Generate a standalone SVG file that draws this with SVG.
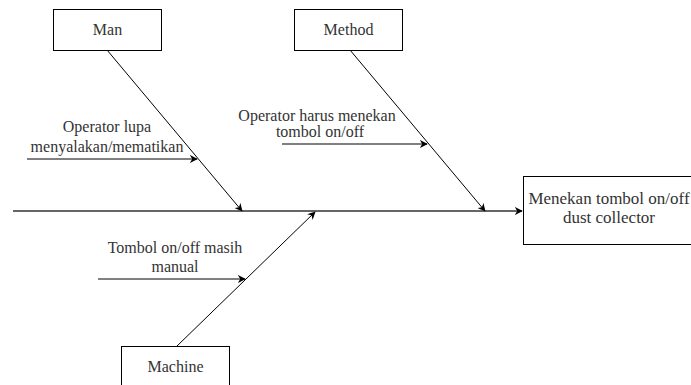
<svg xmlns="http://www.w3.org/2000/svg" width="691" height="385" viewBox="0 0 691 385">
  <style>
    .box { fill: #ffffff; stroke: #000000; stroke-width: 1; }
    .lbl { font-family: 'Liberation Serif', 'Times New Roman', serif; font-size: 16px; fill: #333333; }
    .edge { stroke: #000000; stroke-width: 1; fill: none; marker-end: url(#arrow); }
    .spine { stroke: #333333; stroke-width: 1.5; fill: none; marker-end: url(#arrow); }
  </style>
  <defs>
    <marker id="arrow" viewBox="0 0 10 10" refX="9" refY="5" markerWidth="8" markerHeight="8" markerUnits="userSpaceOnUse" orient="auto">
      <path d="M0,0 L10,5 L0,10 L3,5 Z" fill="#000000"/>
    </marker>
  </defs>
  <rect width="691" height="385" fill="#ffffff"/>

  <g id="connectors">
    <line class="spine" x1="13" y1="211" x2="522" y2="211"/>
    <line class="edge" x1="107" y1="50" x2="242" y2="211"/>
    <line class="edge" x1="350" y1="50" x2="485" y2="211"/>
    <line class="edge" x1="176" y1="347" x2="315" y2="212"/>
    <line class="edge" x1="27" y1="159" x2="197" y2="159"/>
    <line class="edge" x1="282" y1="144" x2="427" y2="144"/>
    <line class="edge" x1="98" y1="279" x2="245" y2="279"/>
  </g>

  <g id="man">
    <rect class="box" x="53.5" y="9.5" width="108" height="41"/>
    <text class="lbl" x="107.5" y="35" text-anchor="middle">Man</text>
  </g>

  <g id="method">
    <rect class="box" x="294.5" y="9.5" width="108" height="41"/>
    <text class="lbl" x="348.5" y="35" text-anchor="middle">Method</text>
  </g>

  <g id="machine">
    <rect class="box" x="121.5" y="346.5" width="108" height="45"/>
    <text class="lbl" x="175.5" y="372" text-anchor="middle">Machine</text>
  </g>

  <g id="effect">
    <rect class="box" x="523.5" y="176.5" width="170" height="68"/>
    <text class="lbl" x="609" y="204" text-anchor="middle" style="font-size:17px">Menekan tombol on/off</text>
    <text class="lbl" x="609" y="223" text-anchor="middle" style="font-size:17px">dust collector</text>
  </g>

  <g id="cause-man">
    <text class="lbl" x="107" y="132" text-anchor="middle">Operator lupa</text>
    <text class="lbl" x="107" y="152" text-anchor="middle">menyalakan/mematikan</text>
  </g>

  <g id="cause-method">
    <text class="lbl" x="317" y="121" text-anchor="middle">Operator harus menekan</text>
    <text class="lbl" x="320" y="137" text-anchor="middle">tombol on/off</text>
  </g>

  <g id="cause-machine">
    <text class="lbl" x="175" y="253" text-anchor="middle">Tombol on/off masih</text>
    <text class="lbl" x="175" y="272" text-anchor="middle">manual</text>
  </g>
</svg>
